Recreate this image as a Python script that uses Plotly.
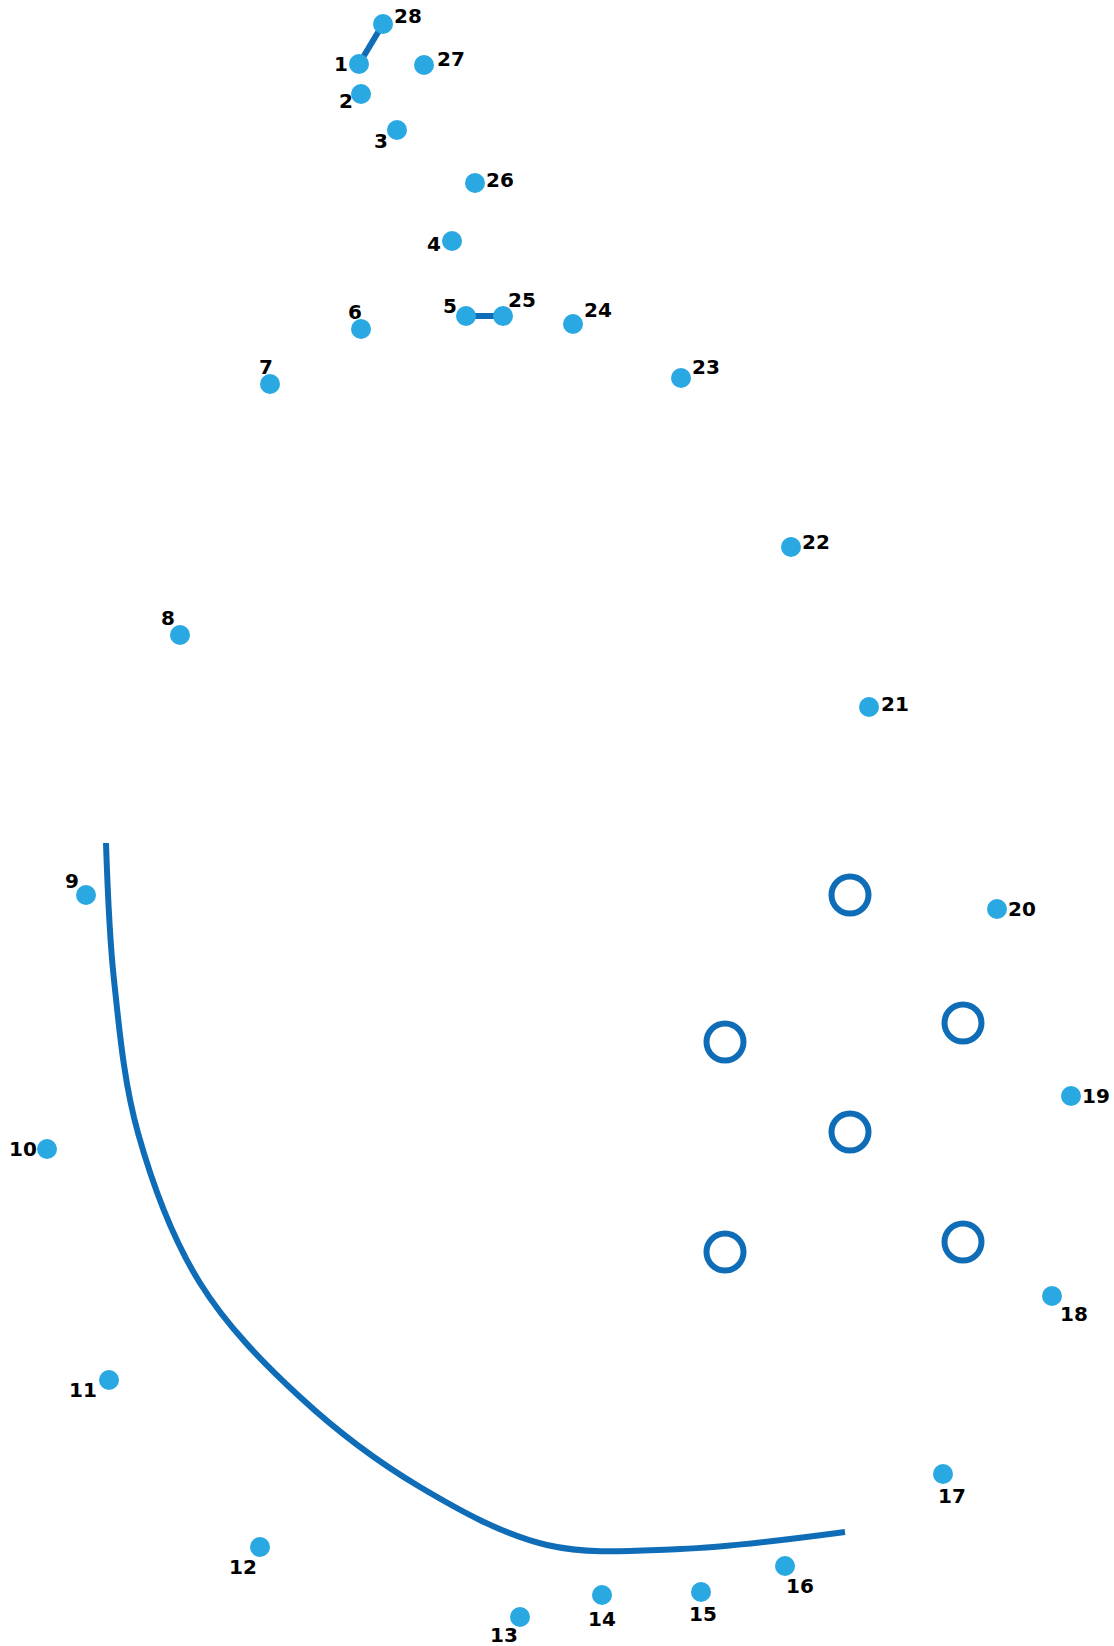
import plotly.graph_objects as go

W, H = 1114, 1646

labels = [str(i) for i in range(1, 29)]
dot_x = [359, 361, 397, 452, 466, 361, 270, 180, 86, 47, 109, 260, 520, 602,
         701, 785, 943, 1052, 1071, 997, 869, 791, 681, 573, 503, 475, 424, 383]
dot_y = [64, 94, 130, 241, 316, 329, 384, 635, 895, 1149, 1380, 1547, 1617, 1595,
         1592, 1566, 1474, 1296, 1096, 909, 707, 547, 378, 324, 316, 183, 65, 24]

# label offsets from each dot, in screen pixels (style only)
label_dx = [-18, -15, -16, -18, -16, -6, -4, -12, -14, -24, -26, -17, -16, 0,
            2, 15, 9, 22, 25, 25, 26, 25, 25, 25, 19, 25, 27, 25]
label_dy = [0, 7, 11, 3, -10, -17, -17, -17, -14, 0, 10, 20, 18, 24,
            22, 20, 22, 18, 0, 0, -3, -5, -11, -14, -16, -3, -6, -8]

# pre-drawn segments (start / end dot numbers)
seg_pairs = [(1, 28), (5, 25)]

# smile curve
curve_x = [106, 114, 138, 200, 300, 420, 547, 680, 845]
curve_y = [843, 980, 1133, 1283, 1397, 1487, 1545, 1549, 1532]

# spots (open rings)
ring_x = [850, 963, 725, 850, 725, 963]
ring_y = [895, 1023, 1042, 1132, 1252, 1242]

DOT = "#29a8e2"
LINE = "#0f6db8"

fig = go.Figure()

fig.add_trace(go.Scatter(x=curve_x, y=curve_y, mode="lines",
                         line=dict(color=LINE, width=6, shape="spline", smoothing=1.0),
                         hoverinfo="skip"))

for a, b in seg_pairs:
    fig.add_trace(go.Scatter(x=[dot_x[a - 1], dot_x[b - 1]],
                             y=[dot_y[a - 1], dot_y[b - 1]], mode="lines",
                             line=dict(color=LINE, width=6), hoverinfo="skip"))

fig.add_trace(go.Scatter(x=ring_x, y=ring_y, mode="markers",
                         marker=dict(symbol="circle-open", size=37, color=LINE,
                                     line=dict(color=LINE, width=6)),
                         hoverinfo="skip"))

fig.add_trace(go.Scatter(x=dot_x, y=dot_y, mode="markers",
                         marker=dict(color=DOT, size=20), hoverinfo="skip"))

for lab, x, y, dx, dy in zip(labels, dot_x, dot_y, label_dx, label_dy):
    fig.add_annotation(x=x, y=y, text=lab, showarrow=False, xshift=dx, yshift=-dy,
                       xanchor="center", yanchor="middle",
                       font=dict(family="DejaVu Sans", size=20, color="#000000",
                                 weight="bold"))

fig.update_layout(width=W, height=H, margin=dict(l=0, r=0, t=0, b=0),
                  showlegend=False, plot_bgcolor="white", paper_bgcolor="white",
                  xaxis=dict(range=[0, W], visible=False, fixedrange=True),
                  yaxis=dict(range=[H, 0], visible=False, fixedrange=True))

fig.write_html("out.html", config={"displayModeBar": False},
               post_script="document.body.style.margin='0px';")
